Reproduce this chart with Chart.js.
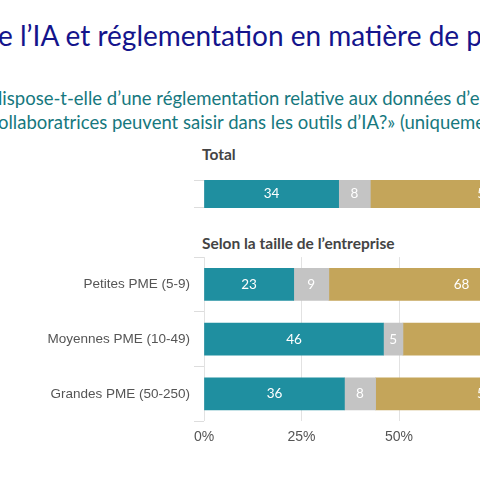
<!DOCTYPE html>
<html>
<head>
<meta charset="utf-8">
<script src="https://cdn.jsdelivr.net/npm/chart.js@4"></script>
<style>
  body { margin: 0; width: 480px; height: 480px; overflow: hidden; position: relative; background: #fff; font-family: Lato, "Noto Sans", sans-serif; }
  .abs { position: absolute; white-space: nowrap; }
  #title { left: -2px; top: 18px; font-size: 28px; color: #14148c; }
  #sub { left: -2px; top: 86px; font-size: 18.5px; color: #16787e; line-height: 24px; }
  .head { font-size: 15.5px; font-weight: bold; color: #444; left: 202px; }
</style>
</head>
<body>
<div id="title" class="abs">e l’IA et réglementation en matière de protection des données</div>
<div id="sub" class="abs">lispose-t-elle d’une réglementation relative aux données d’entreprise<br>ollaboratrices peuvent saisir dans les outils d’IA?» (uniquement</div>
<div class="abs head" style="top:145px">Total</div>
<div class="abs head" style="top:234px">Selon la taille de l’entreprise</div>
<div class="abs" style="left:0;top:168px;width:600px;height:52px"><canvas id="c1"></canvas></div>
<div class="abs" style="left:0;top:245px;width:620px;height:209px"><canvas id="c2"></canvas></div>
<script>
const totalLabels = [''];
const sizeLabels = ['Petites PME (5-9)', 'Moyennes PME (10-49)', 'Grandes PME (50-250)'];
const seriesNames = ['Oui', 'Ne sait pas', 'Non'];
const totalOui = [34], totalNsp = [8], totalNon = [58];
const sizeOui = [23, 46, 36], sizeNsp = [9, 5, 8], sizeNon = [68, 49, 56];
const colors = ['#1f8fa0', '#c4c4c4', '#c4a55a'];

const valueLabels = {
  id: 'valueLabels',
  afterDatasetsDraw(chart) {
    const ctx = chart.ctx;
    ctx.save();
    ctx.fillStyle = '#fff';
    ctx.font = '13.5px Lato, "Noto Sans", sans-serif';
    ctx.textAlign = 'center';
    ctx.textBaseline = 'middle';
    chart.data.datasets.forEach((ds, i) => {
      chart.getDatasetMeta(i).data.forEach((bar, j) => {
        const p = bar.getProps(['x', 'y', 'base'], true);
        ctx.fillText(ds.data[j], (p.x + p.base) / 2, p.y);
      });
    });
    ctx.restore();
  }
};

function makeChart(id, labels, oui, nsp, non, showTicks) {
  return new Chart(document.getElementById(id), {
    type: 'bar',
    data: {
      labels: labels,
      datasets: [oui, nsp, non].map((d, i) => ({
        label: seriesNames[i], data: d, backgroundColor: colors[i], barThickness: 32
      }))
    },
    options: {
      indexAxis: 'y',
      responsive: true,
      maintainAspectRatio: false,
      animation: false,
      layout: { padding: 0 },
      plugins: { legend: { display: false }, tooltip: { enabled: false } },
      scales: {
        x: {
          stacked: true, min: 0, max: 100,
          ticks: { display: showTicks, stepSize: 25, callback: v => v + '%', color: '#555', font: { size: 14 }, padding: 8 },
          grid: { color: '#e2e2e2', drawTicks: false },
          border: { display: false }
        },
        y: {
          stacked: true,
          afterFit: s => { s.width = 204; },
          ticks: { color: '#555', font: { size: 13.5 }, padding: 4 },
          grid: { drawOnChartArea: false, tickLength: 10, color: '#ddd' },
          border: { display: false }
        }
      }
    },
    plugins: [valueLabels]
  });
}

makeChart('c1', totalLabels, totalOui, totalNsp, totalNon, false);
makeChart('c2', sizeLabels, sizeOui, sizeNsp, sizeNon, true);
</script>
</body>
</html>
